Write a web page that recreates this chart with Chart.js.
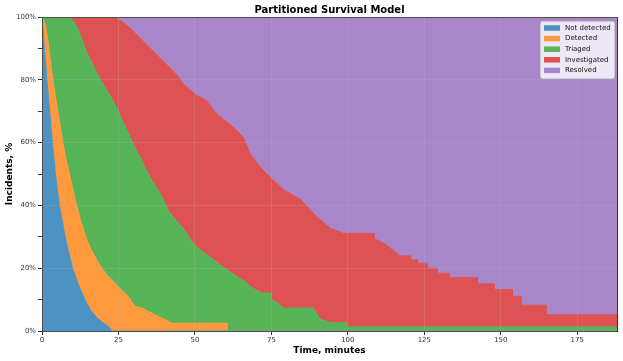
<!DOCTYPE html>
<html>
  <head>
    <title>Partitioned Survival Model</title>
    <meta charset="utf-8" />
    <style>
      html, body { margin: 0; padding: 0; background: #fff; }
      #chart-container { width: 623px; height: 361px; }
    </style>
  </head>
  <body>
    <div id="chart-container">
      <canvas id="survival-chart" width="623" height="361"></canvas>
    </div>

    <script src="https://cdn.jsdelivr.net/npm/chart.js"></script>
    <script>
      // state names and colours, bottom band first
      var stateLabels = ["Not detected", "Detected", "Triaged", "Investigated", "Resolved"];
      var stateColors = ["rgb(76,146,195)", "rgb(255,153,62)", "rgb(86,179,86)", "rgb(222,82,83)", "rgb(169,133,202)"];

      // survival curves (% of incidents not yet past a stage).
      // a repeated time is a step down at that minute
      var notDetectedTime = [0, 0.8, 1.6, 2.5, 3.4, 4.4, 5.7, 7.2, 8.5, 10, 12, 14, 16, 18, 20, 22, 23, 188];
      var notDetectedPct = [100, 90, 80, 70, 60, 50, 40, 32, 26, 20, 14.5, 10, 6.5, 4.2, 2.6, 1.2, 0, 0];

      var notTriagedTime = [0, 1, 2, 3, 4, 5, 6, 7, 8, 9, 10, 11.3, 13, 14.5, 16, 18, 19.5, 22, 25, 28.7, 30.3, 33, 34.7, 37, 38, 41.3, 42, 60.5, 60.5, 188];
      var notTriagedPct = [100, 98, 92, 84, 77, 71, 65, 59, 54, 50, 45.5, 40, 34, 29.5, 26, 22.5, 20, 17, 14, 10.4, 7.8, 7.2, 6.2, 5.2, 4.6, 3.2, 2.5, 2.5, 0, 0];

      var notInvestigatedTime = [0, 8.5, 10.5, 12.3, 14.5, 17, 18.9, 21, 24.3, 27, 29.8, 32.5, 35.2, 38.5, 41.5, 44, 46.7, 49, 51.6, 54.4, 57, 60.4, 63, 66.4, 68, 70, 72, 75, 75, 77, 79, 88.8, 90, 91.5, 94.2, 99.7, 99.7, 188];
      var notInvestigatedPct = [100, 100, 98.5, 95, 89, 84, 80.3, 77, 71.3, 65.5, 59.7, 54.5, 49.1, 44, 38, 35, 32, 28.5, 25.8, 24, 22, 19.5, 17.8, 15.7, 14.2, 13, 12.1, 12.1, 10, 8.9, 7.3, 7.3, 5, 3.6, 2.6, 2.6, 1.3, 1.3];

      var notResolvedTime = [0, 23.2, 25, 27, 29.8, 32.5, 35.2, 38, 40.7, 44.5, 46.2, 48.5, 50.6, 53.8, 57.1, 60, 62.6, 65.8, 68, 71.3, 75.7, 79, 84.4, 89.9, 94.3, 98.6, 108.5, 108.5, 111.7, 113.9, 117.2, 120.5, 120.5, 122.7, 122.7, 126, 126, 129.2, 129.2, 133, 133, 142.4, 142.4, 147.8, 147.8, 153.8, 153.8, 156.6, 156.6, 164.8, 164.8, 188];
      var notResolvedPct = [100, 100, 99.3, 98, 95.6, 93, 90.3, 87.6, 85, 81.2, 78.7, 76.8, 75, 73.4, 69.2, 67, 64.9, 61.7, 56.5, 52.2, 48, 45, 42, 36.4, 32.7, 31.1, 31.1, 29.5, 28, 26.4, 23.9, 23.9, 22.7, 22.7, 21.6, 21.6, 20, 20, 18.4, 18.4, 17, 17, 15, 15, 13.2, 13.2, 11, 11, 8.2, 8.2, 5.2, 5.2];

      var allTime = [0, 188];
      var allPct = [100, 100];

      var xMax = 188;
      var xTickStep = 25;
      var yTickStep = 10;
      var yLabelStep = 20;

      var fontName = "'DejaVu Sans', sans-serif";

      function toPoints(times, pcts) {
        return times.map(function (t, i) {
          return { x: t, y: pcts[i] };
        });
      }

      var curves = [
        toPoints(notDetectedTime, notDetectedPct),
        toPoints(notTriagedTime, notTriagedPct),
        toPoints(notInvestigatedTime, notInvestigatedPct),
        toPoints(notResolvedTime, notResolvedPct),
        toPoints(allTime, allPct),
      ];

      var datasets = curves.map(function (points, i) {
        return {
          label: stateLabels[i],
          data: points,
          fill: i === 0 ? "origin" : "-1",
          backgroundColor: stateColors[i],
          borderColor: stateColors[i],
          borderWidth: 1,
          pointRadius: 0,
          tension: 0,
        };
      });

      // plot frame drawn over the bands
      var frame = {
        id: "frame",
        afterDatasetsDraw: function (chart) {
          var ctx = chart.ctx;
          var a = chart.chartArea;
          ctx.save();
          ctx.strokeStyle = "#333333";
          ctx.lineWidth = 1;
          ctx.strokeRect(Math.round(a.left) + 0.5, Math.round(a.top) + 0.5, Math.round(a.right - a.left), Math.round(a.bottom - a.top));
          ctx.restore();
        },
      };

      // legend box in the upper right corner of the plot
      var boxLegend = {
        id: "boxLegend",
        afterDraw: function (chart) {
          var ctx = chart.ctx;
          var a = chart.chartArea;
          ctx.save();
          ctx.font = "7px " + fontName;
          var textW = 0;
          chart.data.datasets.forEach(function (ds) {
            textW = Math.max(textW, ctx.measureText(ds.label).width);
          });
          var w = Math.round(4 + 16 + 5 + textW + 3);
          var h = 57;
          var x = Math.round(a.right - 3 - w);
          var y = Math.round(a.top + 4);
          ctx.fillStyle = "rgba(255,255,255,0.8)";
          ctx.strokeStyle = "#cccccc";
          ctx.lineWidth = 1;
          ctx.beginPath();
          ctx.roundRect(x + 0.5, y + 0.5, w, h, 2);
          ctx.fill();
          ctx.stroke();
          ctx.textBaseline = "middle";
          chart.data.datasets.forEach(function (ds, i) {
            var cy = y + 7 + i * 10.6;
            ctx.fillStyle = ds.backgroundColor;
            ctx.fillRect(x + 4, cy - 2.75, 16, 5.5);
            ctx.fillStyle = "#111111";
            ctx.fillText(ds.label, x + 25, cy);
          });
          ctx.restore();
        },
      };

      var chart = new Chart(document.getElementById("survival-chart"), {
        type: "line",
        data: { datasets: datasets },
        plugins: [frame, boxLegend],
        options: {
          responsive: false,
          animation: false,
          layout: { padding: { left: 0, right: 6, top: 0, bottom: 0 } },
          plugins: {
            legend: { display: false },
            tooltip: { enabled: false },
            title: {
              display: true,
              fullSize: false,
              text: "Partitioned Survival Model",
              color: "#000000",
              font: { family: fontName, size: 10, weight: "bold" },
              padding: { top: 4, bottom: 1 },
            },
          },
          scales: {
            x: {
              type: "linear",
              min: 0,
              max: xMax,
              afterFit: function (scale) {
                scale.height = 30;
              },
              afterBuildTicks: function (scale) {
                scale.ticks = scale.ticks.filter(function (t) {
                  return t.value % xTickStep === 0;
                });
              },
              ticks: {
                stepSize: xTickStep,
                maxRotation: 0,
                padding: 1,
                color: "#333333",
                font: { family: fontName, size: 7 },
              },
              grid: {
                z: 1,
                color: "rgba(190,190,190,0.2)",
                tickColor: "#333333",
                tickLength: 4,
              },
              border: { display: false },
              title: {
                display: true,
                text: "Time, minutes",
                color: "#000000",
                font: { family: fontName, size: 9, weight: "bold" },
                padding: { top: 0, bottom: 4.5 },
              },
            },
            y: {
              min: 0,
              max: 100,
              afterFit: function (scale) {
                scale.width = 42;
              },
              ticks: {
                stepSize: yTickStep,
                padding: 2,
                color: "#333333",
                font: { family: fontName, size: 7 },
                callback: function (v) {
                  return v % yLabelStep === 0 ? v + "%" : "";
                },
              },
              grid: {
                z: 1,
                color: function (c) {
                  return c.tick && c.tick.value % yLabelStep === 0 ? "rgba(190,190,190,0.2)" : "rgba(0,0,0,0)";
                },
                tickColor: "#333333",
                tickLength: 4,
              },
              border: { display: false },
              title: {
                display: true,
                text: "Incidents, %",
                color: "#000000",
                font: { family: fontName, size: 9, weight: "bold" },
                padding: { top: 4.5, bottom: 0 },
              },
            },
          },
        },
      });
    </script>
  </body>
</html>
